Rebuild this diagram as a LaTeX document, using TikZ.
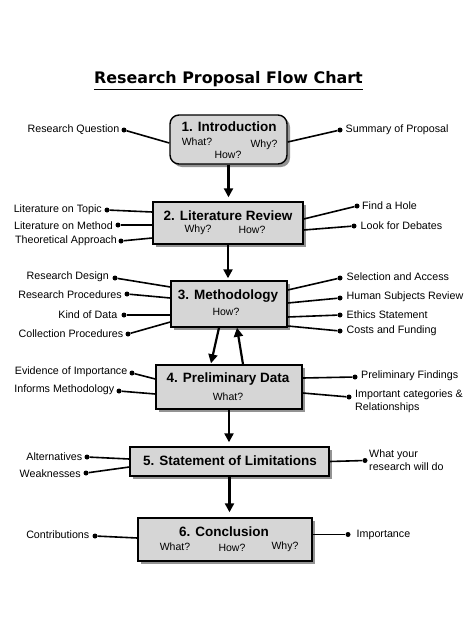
\documentclass[tikz,border=0pt]{standalone}
\usepackage{fontspec}
\setmainfont{Liberation Sans}
\newfontfamily\titlefont{DejaVu Sans}
\usetikzlibrary{arrows.meta,shadows}
\definecolor{boxgray}{HTML}{D6D6D6}
\begin{document}
\begin{tikzpicture}[x=1pt,y=-1pt,
  box/.style={draw=black,line width=1.4pt,fill=boxgray,inner sep=0pt,
    drop shadow={shadow xshift=3pt,shadow yshift=-3pt,fill=black!60,opacity=0.7}},
  hd/.style={font=\fontsize{13.5}{15}\selectfont\bfseries,inner sep=0pt},
  sub/.style={font=\fontsize{10.5}{12}\selectfont,inner sep=0pt},
  lab/.style={font=\fontsize{10.7}{13}\selectfont,inner sep=0pt,align=left},
  dot/.style={circle,fill=black,inner sep=0pt,minimum size=5pt},
  conn/.style={line width=1.6pt},
  flow/.style={line width=2.2pt,-{Triangle[width=9pt,length=9pt]}}
]
\useasboundingbox[fill=white] (0,0) rectangle (474,632);

% title
\node[font=\titlefont\fontsize{15.9}{18}\selectfont\bfseries,inner sep=0pt] (title) at (228.5,79) {Research Proposal Flow Chart};
\draw[line width=1.4pt] ([yshift=-2.5pt]title.south west) -- ([yshift=-2.5pt]title.south east);

% boxes
\node[box,rounded corners=9pt,minimum width=117pt,minimum height=49pt] (b1) at (228.5,139.5) {};
\node[box,minimum width=150pt,minimum height=42pt] (b2) at (228,223) {};
\node[box,minimum width=116pt,minimum height=46pt] (b3) at (229,304) {};
\node[box,minimum width=146pt,minimum height=44pt] (b4) at (229,387) {};
\node[box,minimum width=199pt,minimum height=29pt] (b5) at (229.5,461.5) {};
\node[box,minimum width=174pt,minimum height=43pt] (b6) at (225,539.5) {};

% box texts
\node[hd] (t1) at (229,127) {1. Introduction};
\node[sub] (t1a) at (197,142) {What?};
\node[sub] (t1b) at (264,145) {Why?};
\node[sub] (t1c) at (228,155) {How?};

\node[hd] (t2) at (228,216) {2. Literature Review};
\node[sub] (t2a) at (198,230) {Why?};
\node[sub] (t2b) at (252,230) {How?};

\node[hd] (t3) at (228,296) {3. Methodology};
\node[sub] (t3a) at (226,312) {How?};

\node[hd] (t4) at (228,379) {4. Preliminary Data};
\node[sub] (t4a) at (228,397) {What?};

\node[hd] (t5) at (230,461) {5. Statement of Limitations};

\node[hd] (t6) at (224,532) {6. Conclusion};
\node[sub] (t6a) at (175,547) {What?};
\node[sub] (t6b) at (232,548) {How?};
\node[sub] (t6c) at (285,547) {Why?};

% flow arrows
\draw[flow] (b1.south) -- ([yshift=4pt]b1.south |- b2.north);
\draw[flow] (b2.south) -- ([yshift=2pt]b2.south |- b3.north);
\draw[flow] ([shift={(-10,0)}]b3.south) -- ([shift={(-18,-1)}]b4.north);
\draw[flow] ([shift={(14,0)}]b4.north) -- ([shift={(8,0)}]b3.south);
\draw[flow] (b4.south) -- ([yshift=4pt]b4.south |- b5.north);
\draw[flow] (b5.south) -- ([yshift=5pt]b5.south |- b6.north);

% box 1 side items
\node[dot] (d1) at (124,130) {};
\node[lab,anchor=east] (l1) at (119.5,130) {Research Question};
\draw[conn] (d1) -- ([shift={(0,3.5)}]b1.west);
\node[dot] (d2) at (340,130) {};
\node[lab,anchor=west] (l2) at (345.5,130) {Summary of Proposal};
\draw[conn] (d2) -- ([shift={(0,2.5)}]b1.east);

% box 2 side items
\node[dot] (d3) at (107,210) {};
\node[lab,anchor=east] (l3) at (102,210) {Literature on Topic};
\draw[conn] (d3) -- ([shift={(0,-11)}]b2.west);
\node[dot] (d4) at (118,225) {};
\node[lab,anchor=east] (l4) at (113,225.5) {Literature on Method};
\draw[conn] (d4) -- ([shift={(0,2)}]b2.west);
\node[dot] (d5) at (121,241) {};
\node[lab,anchor=east] (l5) at (117,241) {Theoretical Approach};
\draw[conn] (d5) -- ([shift={(0,15)}]b2.west);
\node[dot] (d6) at (357,206) {};
\node[lab,anchor=west] (l6) at (362,206) {Find a Hole};
\draw[conn] (d6) -- ([shift={(0,-4)}]b2.east);
\node[dot] (d7) at (354,226) {};
\node[lab,anchor=west] (l7) at (360.5,225.5) {Look for Debates};
\draw[conn] (d7) -- ([shift={(0,7)}]b2.east);

% box 3 side items
\node[dot] (d8) at (115,278) {};
\node[lab,anchor=east] (l8) at (109,277) {Research Design};
\draw[conn] (d8) -- ([shift={(0,-17)}]b3.west);
\node[dot] (d9) at (127,294) {};
\node[lab,anchor=east] (l9) at (122,295) {Research Procedures};
\draw[conn] (d9) -- ([shift={(0,-6)}]b3.west);
\node[dot] (d10) at (124,315) {};
\node[lab,anchor=east] (l10) at (117.5,314.5) {Kind of Data};
\draw[conn] (d10) -- ([shift={(0,11)}]b3.west);
\node[dot] (d11) at (128,334) {};
\node[lab,anchor=east] (l11) at (123.5,334) {Collection Procedures};
\draw[conn] (d11) -- ([shift={(0,18)}]b3.west);
\node[dot] (d12) at (340,278) {};
\node[lab,anchor=west] (l12) at (346.5,277) {Selection and Access};
\draw[conn] (d12) -- ([shift={(0,-14)}]b3.east);
\node[dot] (d13) at (340,298) {};
\node[lab,anchor=west] (l13) at (346.5,297) {Human Subjects Review};
\draw[conn] (d13) -- ([shift={(0,-1)}]b3.east);
\node[dot] (d14) at (340,315) {};
\node[lab,anchor=west] (l14) at (346.5,314.5) {Ethics Statement};
\draw[conn] (d14) -- ([shift={(0,13)}]b3.east);
\node[dot] (d15) at (340,331) {};
\node[lab,anchor=west] (l15) at (346.5,330.5) {Costs and Funding};
\draw[conn] (d15) -- ([shift={(0,22)}]b3.east);

% box 4 side items
\node[dot] (d16) at (132,373) {};
\node[lab,anchor=east] (l16) at (127.5,372) {Evidence of Importance};
\draw[conn] (d16) -- ([shift={(0,-8)}]b4.west);
\node[dot] (d17) at (119,391) {};
\node[lab,anchor=east] (l17) at (114.5,390) {Informs Methodology};
\draw[conn] (d17) -- ([shift={(0,7)}]b4.west);
\node[dot] (d18) at (355,377) {};
\node[lab,anchor=west] (l18) at (361,376) {Preliminary Findings};
\draw[conn] (d18) -- ([shift={(0,-9)}]b4.east);
\node[dot] (d19) at (349,397) {};
\node[lab,anchor=west] (l19) at (355,401.5) {Important categories \&\\Relationships};
\draw[conn] (d19) -- ([shift={(0,6)}]b4.east);

% box 5 side items
\node[dot] (d20) at (87,457) {};
\node[lab,anchor=east] (l20) at (82.5,456.5) {Alternatives};
\draw[conn] (d20) -- ([shift={(0,-2.5)}]b5.west);
\node[dot] (d21) at (86,473) {};
\node[lab,anchor=east] (l21) at (81,473.5) {Weaknesses};
\draw[conn] (d21) -- ([shift={(0,5.5)}]b5.west);
\node[dot] (d22) at (365,460.5) {};
\node[lab,anchor=west] (l22) at (369,460.5) {What your\\research will do};
\draw[conn] (d22) -- (b5.east);

% box 6 side items
\node[dot] (d23) at (95,536) {};
\node[lab,anchor=east] (l23) at (89.5,535) {Contributions};
\draw[conn] (d23) -- ([shift={(0,-1.5)}]b6.west);
\node[dot] (d24) at (348,534.5) {};
\node[lab,anchor=west] (l24) at (356.5,534.5) {Importance};
\draw[conn] (d24) -- ([shift={(0,-5)}]b6.east);
\end{tikzpicture}
\end{document}
